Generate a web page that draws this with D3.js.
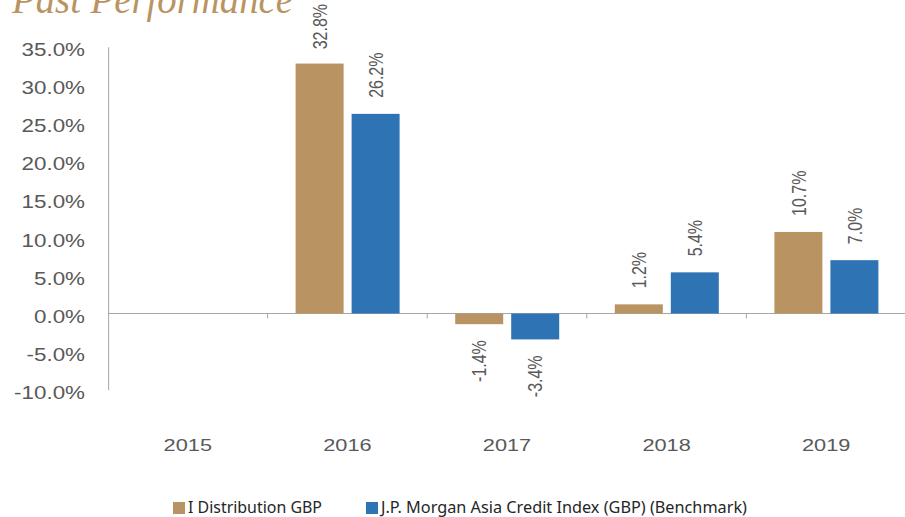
<!DOCTYPE html>
<html>
<head>
<meta charset="utf-8">
<script src="https://cdn.jsdelivr.net/npm/d3@7"></script>
<style>
  body { margin: 0; background: #fff; }
  svg { display: block; }
</style>
</head>
<body>
<svg id="chart"></svg>
<script>
// data
var years = ["2015", "2016", "2017", "2018", "2019"];
var fundValues = [null, 32.8, -1.4, 1.2, 10.7];
var benchValues = [null, 26.2, -3.4, 5.4, 7.0];
var seriesNames = ["I Distribution GBP", "J.P. Morgan Asia Credit Index (GBP) (Benchmark)"];
var seriesColors = ["#B99462", "#2E74B5"];
var yTicks = [-10, -5, 0, 5, 10, 15, 20, 25, 30, 35];

var width = 905, height = 517;
// the reference is stretched horizontally, so the plot group is scaled on x
var sx = 1.28;
function X(px) { return px / sx; }

var svg = d3.select("#chart")
    .attr("width", width)
    .attr("height", height);

// title, cut off at the top like the reference
svg.append("text")
    .attr("x", 12).attr("y", 13)
    .attr("textLength", 281)
    .attr("lengthAdjust", "spacingAndGlyphs")
    .style("font-family", "'Liberation Serif', 'DejaVu Serif', serif")
    .style("font-style", "italic")
    .style("font-size", "40px")
    .attr("fill", "#B99462")
    .text("Past Performance");

var plot = svg.append("g").attr("transform", "scale(" + sx + ",1)");

var x0 = d3.scaleBand().domain(years).range([X(108), X(906)]).padding(0);
var x1 = d3.scaleBand().domain([0, 1]).range([X(28), X(132)]).paddingInner(8 / 56);
var y = d3.scaleLinear().domain([-10, 35]).range([389.7, 46.8]);
// plain hyphen for negatives, like the reference
var locale = d3.formatLocale({ decimal: ".", thousands: ",", grouping: [3], currency: ["", ""], minus: "-" });
var fmt = function (d) { return locale.format(".1f")(d) + "%"; };

// Y axis
var yAxis = plot.append("g")
    .attr("transform", "translate(" + X(108) + ",0)")
    .call(d3.axisLeft(y).tickValues(yTicks).tickSize(0).tickSizeOuter(0).tickPadding(X(23)).tickFormat(fmt));
yAxis.select(".domain").attr("stroke", "#A6A6A6").attr("vector-effect", "non-scaling-stroke");
yAxis.selectAll("text")
    .attr("dy", "0.5em")
    .attr("fill", "#595959")
    .style("font-family", "'Liberation Sans', Arial, sans-serif")
    .style("font-size", "17.5px");

// X axis labels
var xAxis = plot.append("g")
    .attr("transform", "translate(0," + y(0) + ")")
    .call(d3.axisBottom(x0).tickSize(0).tickPadding(125.5));
xAxis.select(".domain").remove();
xAxis.selectAll("text")
    .attr("fill", "#595959")
    .style("font-family", "'Liberation Sans', Arial, sans-serif")
    .style("font-size", "17px");

// zero line and category tick marks
plot.append("line")
    .attr("x1", X(108)).attr("x2", X(906))
    .attr("y1", y(0)).attr("y2", y(0))
    .attr("stroke", "#A6A6A6")
    .attr("vector-effect", "non-scaling-stroke");
plot.selectAll(".xtick")
    .data(years.slice(1))
    .enter().append("line")
    .attr("class", "xtick")
    .attr("x1", function (d) { return x0(d); })
    .attr("x2", function (d) { return x0(d); })
    .attr("y1", y(0)).attr("y2", y(0) + 5)
    .attr("stroke", "#A6A6A6")
    .attr("vector-effect", "non-scaling-stroke");

// bars
var bars = [];
years.forEach(function (yr, i) {
    [fundValues[i], benchValues[i]].forEach(function (v, s) {
        if (v !== null) bars.push({ year: yr, s: s, value: v });
    });
});

plot.selectAll(".bar")
    .data(bars)
    .enter().append("rect")
    .attr("class", "bar")
    .attr("x", function (d) { return x0(d.year) + x1(d.s); })
    .attr("width", x1.bandwidth())
    .attr("y", function (d) { return y(Math.max(0, d.value)); })
    .attr("height", function (d) { return Math.abs(y(d.value) - y(0)); })
    .attr("fill", function (d) { return seriesColors[d.s]; });

// rotated value labels
var gap = 16;
plot.selectAll(".lbl")
    .data(bars)
    .enter().append("text")
    .attr("class", "lbl")
    .attr("fill", "#595959")
    .style("font-family", "'Liberation Sans', Arial, sans-serif")
    .style("font-size", "16px")
    .attr("dominant-baseline", "central")
    .attr("text-anchor", function (d) { return d.value >= 0 ? "start" : "end"; })
    .text(function (d) { return fmt(d.value); })
    .attr("transform", function (d) {
        var cx = x0(d.year) + x1(d.s) + x1.bandwidth() / 2;
        var ly;
        if (d.value >= 0) {
            var len = this.getComputedTextLength();
            ly = Math.max(y(d.value) - gap, 4 + len);
        } else {
            ly = y(d.value) + gap;
        }
        return "translate(" + cx + "," + ly + ") rotate(-90)";
    });

// legend
var legendX = [173, 366];
var legendLen = [134, 366];
var legend = svg.selectAll(".legend")
    .data(seriesNames)
    .enter().append("g")
    .attr("class", "legend");
legend.append("rect")
    .attr("x", function (d, i) { return legendX[i]; })
    .attr("y", 502)
    .attr("width", 12).attr("height", 12)
    .attr("fill", function (d, i) { return seriesColors[i]; });
legend.append("text")
    .attr("x", function (d, i) { return legendX[i] + 15; })
    .attr("y", 513)
    .attr("textLength", function (d, i) { return legendLen[i]; })
    .attr("lengthAdjust", "spacingAndGlyphs")
    .attr("fill", "#262626")
    .style("font-family", "'Noto Sans', 'Open Sans', sans-serif")
    .style("font-size", "15.5px")
    .text(function (d) { return d; });
</script>
</body>
</html>
